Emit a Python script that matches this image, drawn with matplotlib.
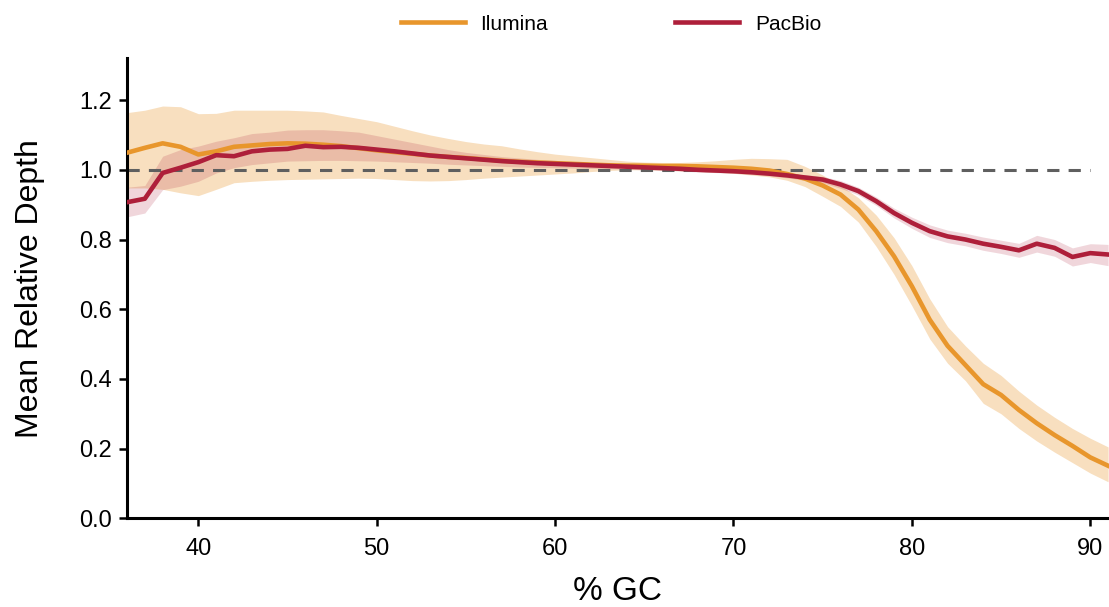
import matplotlib

matplotlib.use("Agg")
import matplotlib.pyplot as plt
import numpy as np

plt.rcParams["font.family"] = ["Liberation Sans", "DejaVu Sans"]

GC = list(range(36, 92))

ILLUMINA_MEAN = [
    1.049, 1.063, 1.076, 1.066, 1.044, 1.053, 1.066, 1.070, 1.074, 1.076,
    1.075, 1.072, 1.068, 1.062, 1.056, 1.051, 1.046, 1.041, 1.037, 1.034,
    1.030, 1.026, 1.023, 1.021, 1.019, 1.017, 1.015, 1.013, 1.012, 1.012,
    1.011, 1.011, 1.010, 1.008, 1.006, 1.003, 0.998, 0.988, 0.975, 0.955,
    0.929, 0.886, 0.824, 0.752, 0.666, 0.570, 0.495, 0.440, 0.385, 0.354,
    0.311, 0.273, 0.239, 0.208, 0.175, 0.151,
]
ILLUMINA_UPPER = [
    1.164, 1.171, 1.183, 1.181, 1.161, 1.162, 1.171, 1.171, 1.171, 1.171,
    1.169, 1.166, 1.156, 1.147, 1.138, 1.125, 1.112, 1.100, 1.090, 1.081,
    1.074, 1.069, 1.060, 1.052, 1.045, 1.040, 1.035, 1.030, 1.025, 1.022,
    1.021, 1.021, 1.023, 1.026, 1.030, 1.033, 1.032, 1.030, 1.010, 0.985,
    0.955, 0.920, 0.870, 0.805, 0.725, 0.630, 0.550, 0.495, 0.445, 0.410,
    0.365, 0.325, 0.290, 0.258, 0.230, 0.205,
]
ILLUMINA_LOWER = [
    0.948, 0.948, 0.944, 0.934, 0.926, 0.944, 0.963, 0.967, 0.970, 0.972,
    0.973, 0.974, 0.975, 0.976, 0.975, 0.972, 0.969, 0.968, 0.969, 0.972,
    0.976, 0.979, 0.982, 0.985, 0.988, 0.991, 0.995, 0.998, 1.000, 1.000,
    0.999, 0.997, 0.995, 0.993, 0.990, 0.985, 0.980, 0.970, 0.952, 0.924,
    0.895, 0.850, 0.780, 0.700, 0.610, 0.515, 0.445, 0.395, 0.330, 0.300,
    0.258, 0.222, 0.190, 0.160, 0.130, 0.105,
]

PACBIO_MEAN = [
    0.907, 0.917, 0.991, 1.006, 1.022, 1.042, 1.039, 1.053, 1.058, 1.060,
    1.069, 1.065, 1.066, 1.063, 1.058, 1.053, 1.047, 1.041, 1.037, 1.033,
    1.029, 1.025, 1.022, 1.019, 1.017, 1.015, 1.013, 1.011, 1.009, 1.007,
    1.005, 1.003, 1.000, 0.998, 0.996, 0.993, 0.989, 0.984, 0.978, 0.972,
    0.958, 0.939, 0.910, 0.876, 0.848, 0.824, 0.809, 0.800, 0.788, 0.779,
    0.769, 0.788, 0.776, 0.750, 0.761, 0.757,
]
PACBIO_UPPER = [
    0.950, 0.955, 1.039, 1.058, 1.068, 1.082, 1.092, 1.104, 1.108, 1.114,
    1.115, 1.115, 1.112, 1.108, 1.098, 1.088, 1.078, 1.068, 1.058, 1.050,
    1.044, 1.038, 1.034, 1.030, 1.027, 1.024, 1.021, 1.018, 1.015, 1.012,
    1.009, 1.007, 1.004, 1.002, 1.000, 0.998, 0.995, 0.991, 0.986, 0.981,
    0.969, 0.950, 0.922, 0.890, 0.864, 0.842, 0.827, 0.818, 0.807, 0.798,
    0.789, 0.812, 0.800, 0.776, 0.788, 0.786,
]
PACBIO_LOWER = [
    0.865, 0.876, 0.943, 0.953, 0.967, 0.991, 1.006, 1.015, 1.020, 1.025,
    1.026, 1.027, 1.027, 1.026, 1.025, 1.023, 1.021, 1.019, 1.016, 1.014,
    1.012, 1.010, 1.008, 1.007, 1.006, 1.005, 1.004, 1.003, 1.002, 1.000,
    0.999, 0.997, 0.994, 0.992, 0.990, 0.987, 0.983, 0.977, 0.970, 0.963,
    0.947, 0.928, 0.898, 0.862, 0.832, 0.806, 0.791, 0.782, 0.769, 0.760,
    0.749, 0.764, 0.752, 0.724, 0.734, 0.725,
]

ORANGE = "#E8962C"
RED = "#AE1F3A"


def main() -> None:
    fig = plt.figure(figsize=(11.09, 6.07), dpi=100)
    ax = fig.add_axes([0.1145, 0.146, 0.8855, 0.758])

    ax.fill_between(GC, ILLUMINA_LOWER, ILLUMINA_UPPER, color=ORANGE, alpha=0.3, linewidth=0)
    ax.fill_between(GC, PACBIO_LOWER, PACBIO_UPPER, color=RED, alpha=0.18, linewidth=0)
    ax.hlines(1.0, 36, 90, colors="#5f5f5f", linestyles=(0, (4, 3)), linewidth=2.2, zorder=2)
    ax.plot(GC, ILLUMINA_MEAN, color=ORANGE, linewidth=3.3, label="Ilumina", zorder=3)
    ax.plot(GC, PACBIO_MEAN, color=RED, linewidth=3.3, label="PacBio", zorder=4)

    ax.set_xlim(36, 91.05)
    ax.set_ylim(0, 1.32)
    ax.set_xticks([40, 50, 60, 70, 80, 90])
    ax.set_yticks(np.arange(0, 1.21, 0.2))
    ax.set_yticklabels([f"{v:.1f}" for v in np.arange(0, 1.21, 0.2)])
    ax.tick_params(labelsize=17, width=1.8, length=6, pad=5)
    ax.tick_params(axis="x", pad=8)

    for side in ("top", "right"):
        ax.spines[side].set_visible(False)
    for side in ("left", "bottom"):
        ax.spines[side].set_linewidth(2.2)

    ax.set_xlabel("% GC", fontsize=24, labelpad=12)
    ax.set_ylabel("Mean Relative Depth", fontsize=23, labelpad=24)

    fig.legend(
        loc="center",
        bbox_to_anchor=(0.551, 0.960),
        ncol=2,
        frameon=False,
        fontsize=15,
        handlelength=3.07,
        columnspacing=6.1,
        handletextpad=0.77,
    )

    fig.savefig("out.png", dpi=100)
    plt.close(fig)


if __name__ == "__main__":
    main()
